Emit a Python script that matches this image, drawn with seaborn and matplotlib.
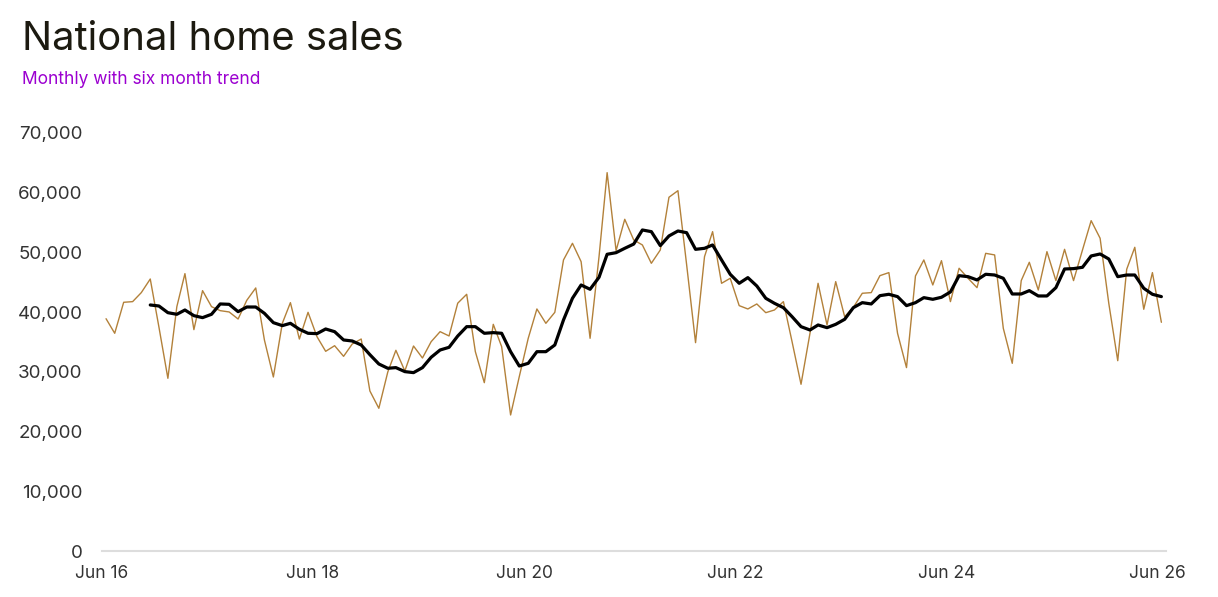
import pandas as pd
import matplotlib.pyplot as plt
import matplotlib.dates as mdates
import seaborn as sns
from matplotlib.ticker import FuncFormatter

# Monthly national home sales, Jun 2016 - Jun 2026
monthly_sales = [
    38900, 36460, 41650, 41760, 43270, 45550, 37500, 28920, 40920, 46450,
    37070, 43600, 40920, 40250, 40030, 38850, 41980, 44050, 35340, 29140,
    38130, 41590, 35500, 39970, 35890, 33440, 34380, 32600, 34670, 35500,
    26800, 23900, 29980, 33610, 30150, 34330, 32320, 35050, 36730, 36010,
    41500, 42990, 33380, 28190, 37960, 34220, 22780, 29200, 35620, 40530,
    38130, 39970, 48740, 51530, 48450, 35620, 49300, 63360, 50300, 55550,
    52090, 51250, 48180, 50410, 59240, 60340, 48000, 34890, 49290, 53480,
    44830, 45670, 41090, 40530, 41370, 39910, 40360, 41760, 35050, 27920,
    36460, 44830, 37850, 45110, 39240, 40800, 43160, 43270, 46110, 46620,
    36460, 30710, 46060, 48740, 44550, 48620, 41760, 47350, 45670, 44100,
    49850, 49580, 37290, 31430, 45280, 48350, 43710, 50130, 45280, 50520,
    45280, 50410, 55320, 52370, 41480, 31870, 47180, 50860, 40480, 46620,
    38300,
]

# Six month trend (starts at the sixth month)
six_month_trend = [None] * 5 + [
    41200, 41030, 39910, 39640, 40360, 39410, 39080, 39640, 41370, 41310,
    40080, 40860, 40860, 39800, 38240, 37740,
    38130, 37130, 36460, 36400, 37180, 36730, 35340, 35170, 34500, 32880,
    31320, 30600, 30710, 30040, 29870, 30710, 32440, 33660, 34110, 36000,
    37570, 37570, 36460, 36570, 36460, 33380, 30980, 31430, 33380, 33380,
    34500, 38690, 42320, 44550, 43830, 45840, 49690, 49960, 50690, 51400,
    53760, 53480, 51140, 52760, 53590, 53310, 50520, 50690, 51250, 48740,
    46340, 44830, 45780, 44380, 42320, 41480, 40750, 39240, 37570, 37010,
    37850, 37400, 37960, 38800, 40750, 41590, 41370, 42760, 42990, 42600,
    41090, 41590, 42430, 42150, 42490, 43380, 46110, 45940, 45390, 46340,
    46220, 45670, 43040, 43040, 43600, 42710, 42710, 44100, 47230, 47290,
    47510, 49410, 49740, 48900, 45940, 46220, 46220, 44000, 42990, 42600,
]

tick_years = [2016, 2018, 2020, 2022, 2024, 2026]

months = pd.date_range('2016-06-01', periods=len(monthly_sales), freq='MS') + pd.Timedelta(days=14)
df = pd.DataFrame({'month': months, 'sales': monthly_sales,
                   'trend': pd.to_numeric(pd.Series(six_month_trend), errors='coerce')})

sns.set_style('white')
plt.rcParams['font.family'] = ['Inter', 'DejaVu Sans']

fig = plt.figure(figsize=(12.18, 5.97), dpi=100)
ax = fig.add_axes([102 / 1218, 1 - 551 / 597, (1166 - 102) / 1218, (551 - 133) / 597])

sns.lineplot(data=df, x='month', y='sales', color='#b3813a', linewidth=1.0, ax=ax)
sns.lineplot(data=df, x='month', y='trend', color='black', linewidth=2.3, ax=ax)

ax.set_ylim(0, 70000)
ax.set_xlim(pd.Timestamp('2016-06-01'), pd.Timestamp('2026-07-01'))
ax.set_yticks(range(0, 70001, 10000))
ax.yaxis.set_major_formatter(FuncFormatter(lambda v, p: f'{int(v):,}'))
ax.set_xticks([pd.Timestamp(f'{y}-06-01') for y in tick_years])
ax.xaxis.set_major_formatter(mdates.DateFormatter('Jun %y'))
ax.set_xlabel('')
ax.set_ylabel('')

for side in ['top', 'right', 'left']:
    ax.spines[side].set_visible(False)
ax.spines['bottom'].set_color('#dddddd')
ax.spines['bottom'].set_linewidth(1.5)

ax.tick_params(axis='y', length=0, pad=14, labelsize=13.5, labelcolor='#333333')
ax.tick_params(axis='x', length=5, width=1, color='#d5d5d5', pad=5,
               labelsize=12.5, labelcolor='#333333')

fig.text(22 / 1218, 1 - 40 / 597, 'National home sales', fontsize=28.8,
         color='#1c1a10', va='center', ha='left')
fig.text(22 / 1218, 1 - 79 / 597, 'Monthly with six month trend', fontsize=12.5,
         color='#9b00d0', va='center', ha='left')

fig.savefig('out.png', dpi=100)
